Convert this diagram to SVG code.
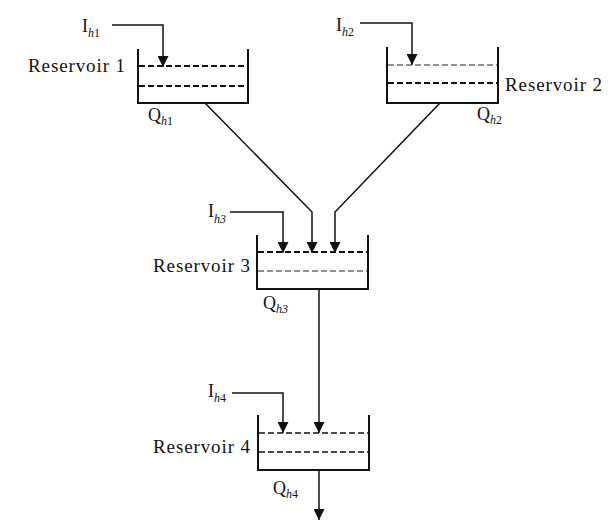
<svg xmlns="http://www.w3.org/2000/svg" width="614" height="520" viewBox="0 0 614 520">
<style>
.tank{fill:none;stroke:#111;stroke-width:2}
.dk{stroke:#111;stroke-width:2;stroke-dasharray:6 3;fill:none}
.dn{stroke:#222;stroke-width:1.2;stroke-dasharray:6 3;fill:none}
.ln{fill:none;stroke:#111;stroke-width:1.5}
.ar{marker-end:url(#ah)}
text{font-family:"Liberation Serif","Times New Roman",serif;fill:#111}
.lab{font-size:19px}
.sym{font-size:18px}
.sub{font-size:12px}
.it{font-style:italic}
</style>
<defs>
<marker id="ah" viewBox="0 0 10 10" refX="10" refY="5" markerWidth="11" markerHeight="11" markerUnits="userSpaceOnUse" orient="auto">
<path d="M0,0 L10,5 L0,10 z" fill="#111"/>
</marker>
</defs>
<g id="connectors">
<path class="ln ar" d="M112,25 H163 V67"/>
<path class="ln ar" d="M360,23 H412 V65"/>
<path class="ln ar" d="M230,212 H283 V253"/>
<path class="ln ar" d="M232,393 H283 V433"/>
<path class="ln ar" d="M205,103 L312,212 V253"/>
<path class="ln ar" d="M440,103 L335,212 V253"/>
<path class="ln ar" d="M319,289 V433"/>
<path class="ln ar" d="M319,470 V520"/>
</g>
<g id="reservoir1">
<path class="tank" d="M138,49 V103 H248 V49"/>
<line class="dk" x1="139" y1="66" x2="247" y2="66"/>
<line class="dk" x1="139" y1="86" x2="247" y2="86"/>
<text class="lab" x="28" y="72" textLength="97" lengthAdjust="spacing">Reservoir 1</text>
<text class="sym" x="82" y="32">I<tspan class="sub it" dy="5">h</tspan><tspan class="sub">1</tspan></text>
<text class="sym" x="148" y="121">Q<tspan class="sub it" dy="4">h</tspan><tspan class="sub">1</tspan></text>
</g>
<g id="reservoir2">
<path class="tank" d="M387,47 V103 H498 V47"/>
<line class="dn" x1="388" y1="65" x2="497" y2="65"/>
<line class="dk" x1="388" y1="83" x2="497" y2="83"/>
<text class="lab" x="505" y="91" textLength="97" lengthAdjust="spacing">Reservoir 2</text>
<text class="sym" x="336" y="31">I<tspan class="sub it" dy="5">h</tspan><tspan class="sub">2</tspan></text>
<text class="sym" x="477" y="120">Q<tspan class="sub it" dy="4">h</tspan><tspan class="sub">2</tspan></text>
</g>
<g id="reservoir3">
<path class="tank" d="M257,235 V289 H368 V235"/>
<line class="dk" x1="258" y1="252" x2="367" y2="252"/>
<line class="dn" x1="258" y1="271" x2="367" y2="271"/>
<text class="lab" x="153" y="272" textLength="97" lengthAdjust="spacing">Reservoir 3</text>
<text class="sym" x="208" y="217">I<tspan class="sub it" dy="6">h3</tspan></text>
<text class="sym" x="263" y="309">Q<tspan class="sub it" dy="4">h3</tspan></text>
</g>
<g id="reservoir4">
<path class="tank" d="M258,415 V470 H369 V415"/>
<line class="dk" x1="259" y1="433" x2="368" y2="433" style="stroke-width:1.7"/>
<line class="dk" x1="259" y1="452" x2="368" y2="452" style="stroke-width:1.5"/>
<text class="lab" x="153" y="453" textLength="97" lengthAdjust="spacing">Reservoir 4</text>
<text class="sym" x="208" y="397">I<tspan class="sub it" dy="5">h</tspan><tspan class="sub">4</tspan></text>
<text class="sym" x="273" y="494">Q<tspan class="sub it" dy="4">h</tspan><tspan class="sub">4</tspan></text>
</g>
</svg>
